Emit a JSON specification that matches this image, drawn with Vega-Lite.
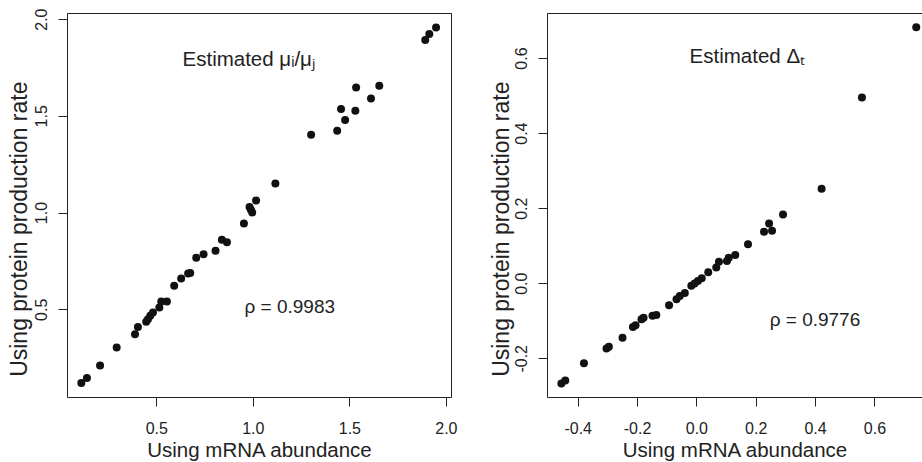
{
  "$schema": "https://vega.github.io/schema/vega-lite/v6.json",
  "background": "white",
  "autosize": {"type": "pad"},
  "padding": {"left": 7, "top": 7, "right": 0, "bottom": 0},
  "config": {
    "font": "Liberation Sans",
    "view": {"stroke": "#222", "strokeWidth": 1},
    "axis": {
      "grid": false, "domain": false, "domainColor": "#222", "tickColor": "#222", "tickSize": 9,
      "labelColor": "#222", "titleColor": "#222", "titleFontWeight": "normal",
      "labelFont": "Liberation Sans", "titleFont": "Liberation Sans",
      "labelFlush": false, "labelOverlap": false, "labelBound": false,
      "labelExpr": "replace(format(datum.value, '.1f'), '\u2212', '-')"
    }
  },
  "datasets": {
    "mu": [
      {"x":0.112,"y":0.119},{"x":0.141,"y":0.145},{"x":0.209,"y":0.209},{"x":0.295,"y":0.302},{"x":0.390,"y":0.371},
      {"x":0.405,"y":0.409},{"x":0.448,"y":0.436},{"x":0.457,"y":0.448},{"x":0.469,"y":0.466},{"x":0.483,"y":0.483},
      {"x":0.516,"y":0.509},{"x":0.526,"y":0.540},{"x":0.555,"y":0.540},{"x":0.593,"y":0.622},{"x":0.629,"y":0.659},
      {"x":0.665,"y":0.685},{"x":0.676,"y":0.688},{"x":0.707,"y":0.767},{"x":0.745,"y":0.785},{"x":0.807,"y":0.803},
      {"x":0.840,"y":0.859},{"x":0.866,"y":0.847},{"x":0.954,"y":0.943},{"x":0.997,"y":1.000},{"x":0.990,"y":1.015},
      {"x":0.983,"y":1.029},{"x":1.017,"y":1.062},{"x":1.117,"y":1.150},{"x":1.302,"y":1.402},{"x":1.437,"y":1.423},
      {"x":1.478,"y":1.478},{"x":1.531,"y":1.526},{"x":1.457,"y":1.535},{"x":1.612,"y":1.590},{"x":1.535,"y":1.647},
      {"x":1.655,"y":1.655},{"x":1.893,"y":1.892},{"x":1.914,"y":1.923},{"x":1.949,"y":1.957}
    ],
    "delta": [
      {"x":-0.455,"y":-0.267},{"x":-0.442,"y":-0.259},{"x":-0.379,"y":-0.213},{"x":-0.303,"y":-0.174},{"x":-0.295,"y":-0.169},
      {"x":-0.249,"y":-0.145},{"x":-0.214,"y":-0.117},{"x":-0.205,"y":-0.112},{"x":-0.185,"y":-0.096},{"x":-0.178,"y":-0.092},
      {"x":-0.148,"y":-0.087},{"x":-0.135,"y":-0.085},{"x":-0.092,"y":-0.059},{"x":-0.067,"y":-0.043},{"x":-0.056,"y":-0.034},
      {"x":-0.039,"y":-0.026},{"x":-0.017,"y":-0.007},{"x":-0.006,"y":-0.001},{"x":0.005,"y":0.006},{"x":0.018,"y":0.013},
      {"x":0.040,"y":0.029},{"x":0.067,"y":0.042},{"x":0.076,"y":0.057},{"x":0.103,"y":0.059},{"x":0.109,"y":0.068},
      {"x":0.131,"y":0.075},{"x":0.174,"y":0.104},{"x":0.228,"y":0.137},{"x":0.255,"y":0.140},{"x":0.245,"y":0.159},
      {"x":0.292,"y":0.183},{"x":0.422,"y":0.252},{"x":0.558,"y":0.495},{"x":0.741,"y":0.682}
    ],
    "muTitle": [{"x":0.636,"y":1.759,"label":"Estimated μᵢ/μⱼ"}],
    "muRho": [{"x":0.957,"y":0.483,"label":"ρ = 0.9983"}],
    "dTitle": [{"x":-0.023,"y":0.587,"label":"Estimated Δₜ"}],
    "dRho": [{"x":0.247,"y":-0.114,"label":"ρ = 0.9776"}]
  },
  "spacing": 96,
  "bounds": "flush",
  "hconcat": [
    {
      "width": 384,
      "height": 384,
      "layer": [
        {
          "data": {"name": "mu"},
          "mark": {"type": "circle", "size": 64, "opacity": 1, "color": "#111"},
          "encoding": {
            "x": {"field": "x", "type": "quantitative",
              "scale": {"domain": [0.0378, 2.0264], "nice": false, "zero": false},
              "axis": {"values": [0.5, 1, 1.5, 2], "title": "Using mRNA abundance",
                "labelFontSize": 16, "labelPadding": 14, "titleFontSize": 20.5,
                "titleBaseline": "alphabetic", "titleY": 59}},
            "y": {"field": "y", "type": "quantitative",
              "scale": {"domain": [0.0466, 2.0316], "nice": false, "zero": false},
              "axis": {"values": [0.5, 1, 1.5, 2], "title": "Using protein production rate",
                "labelFontSize": 16, "labelAngle": 270, "labelAlign": "center", "labelBaseline": "bottom", "labelPadding": 9,
                "titleFontSize": 23, "titleAngle": 270, "titleAlign": "center", "titleBaseline": "alphabetic",
                "titleX": -40.5, "titleY": 215.7}}
          }
        },
        {
          "data": {"name": "muTitle"},
          "mark": {"type": "text", "align": "left", "baseline": "alphabetic", "fontSize": 20.5, "color": "#222"},
          "encoding": {
            "x": {"field": "x", "type": "quantitative"},
            "y": {"field": "y", "type": "quantitative"},
            "text": {"field": "label"}
          }
        },
        {
          "data": {"name": "muRho"},
          "mark": {"type": "text", "align": "left", "baseline": "alphabetic", "fontSize": 19, "color": "#222"},
          "encoding": {
            "x": {"field": "x", "type": "quantitative"},
            "y": {"field": "y", "type": "quantitative"},
            "text": {"field": "label"}
          }
        }
      ]
    },
    {
      "width": 375,
      "height": 384,
      "view": {"stroke": null},
      "resolve": {"axis": {"x": "independent"}},
      "layer": [
        {
          "data": {"name": "delta"},
          "mark": {"type": "circle", "size": 64, "opacity": 1, "color": "#111"},
          "encoding": {
            "x": {"field": "x", "type": "quantitative",
              "scale": {"domain": [-0.5035, 0.7604], "nice": false, "zero": false},
              "axis": {"values": [-0.4, -0.2, 0, 0.2, 0.4, 0.6], "title": "Using mRNA abundance",
                "domain": true, "labelFontSize": 16, "labelPadding": 14, "titleFontSize": 20.5,
                "titleBaseline": "alphabetic", "titleY": 59}},
            "y": {"field": "y", "type": "quantitative",
              "scale": {"domain": [-0.3032, 0.72], "nice": false, "zero": false},
              "axis": {"values": [-0.2, 0, 0.2, 0.4, 0.6], "title": "Using protein production rate",
                "domain": true, "labelFontSize": 16, "labelAngle": 270, "labelAlign": "center", "labelBaseline": "bottom", "labelPadding": 9,
                "titleFontSize": 23, "titleAngle": 270, "titleAlign": "center", "titleBaseline": "alphabetic",
                "titleX": -38.5, "titleY": 215.7}}
          }
        },
        {
          "data": {"name": "dTitle"},
          "mark": {"type": "text", "align": "left", "baseline": "alphabetic", "fontSize": 20.5, "color": "#222"},
          "encoding": {
            "x": {"field": "x", "type": "quantitative",
              "axis": {"orient": "top", "domain": true, "labels": false, "ticks": false, "title": null}},
            "y": {"field": "y", "type": "quantitative"},
            "text": {"field": "label"}
          }
        },
        {
          "data": {"name": "dRho"},
          "mark": {"type": "text", "align": "left", "baseline": "alphabetic", "fontSize": 19, "color": "#222"},
          "encoding": {
            "x": {"field": "x", "type": "quantitative", "axis": null},
            "y": {"field": "y", "type": "quantitative"},
            "text": {"field": "label"}
          }
        }
      ]
    }
  ]
}
